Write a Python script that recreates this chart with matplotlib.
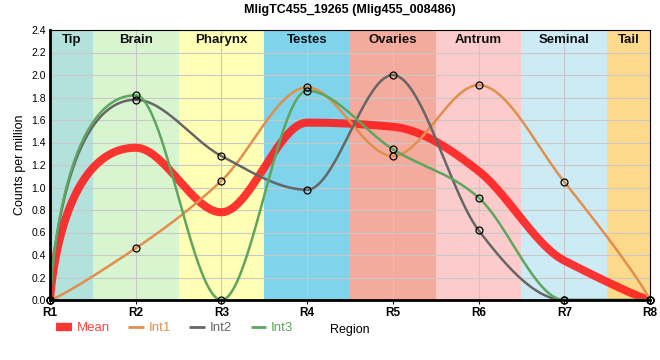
import numpy as np
import matplotlib
matplotlib.use("Agg")
import matplotlib.pyplot as plt
from matplotlib.lines import Line2D

plt.rcParams["font.family"] = ["Liberation Sans", "DejaVu Sans"]

TITLE = "MligTC455_19265 (Mlig455_008486)"
regions = ["R1", "R2", "R3", "R4", "R5", "R6", "R7", "R8"]
band_names = ["Tip", "Brain", "Pharynx", "Testes", "Ovaries", "Antrum", "Seminal", "Tail"]
band_colors = ["#b3e2dd", "#d8f5d0", "#ffffb5", "#7fd3ea", "#f4ab9d", "#fccbcb", "#cdebf5", "#fdd98b"]

int1 = [0.0, 0.46, 1.06, 1.89, 1.28, 1.91, 1.05, 0.0]
int2 = [0.0, 1.78, 1.28, 0.98, 2.00, 0.62, 0.0, 0.0]
int3 = [0.0, 1.82, 0.0, 1.86, 1.34, 0.91, 0.0, 0.0]
mean = list(np.mean([int1, int2, int3], axis=0))

series = [
    ("Int1", int1, "#e08f4c"),
    ("Int2", int2, "#666666"),
    ("Int3", int3, "#5ea55e"),
]
MEAN_COLOR = "#ff1a1a"


def smooth_curve(y, n=80, k=0.9):
    # monotone tangents inside, long handles on the two end segments
    y = np.asarray(y, dtype=float)
    last = len(y) - 1
    s = np.diff(y)
    sign = lambda v: -1.0 if v < 0 else 1.0
    t = np.zeros(len(y))
    for i in range(1, last):
        p = (s[i - 1] + s[i]) / 2
        t[i] = (sign(s[i - 1]) + sign(s[i])) * min(abs(s[i - 1]), abs(s[i]), 0.5 * abs(p))
    # keep the long end handles from overshooting
    t[1] = np.sign(t[1]) * min(abs(t[1]), abs(s[0]) / k)
    t[last - 1] = np.sign(t[last - 1]) * min(abs(t[last - 1]), abs(s[-1]) / k)
    u = np.linspace(0, 1, n)[:, None]
    parts = []
    for i in range(last):
        p0 = np.array([i, y[i]])
        p1 = np.array([i + 1, y[i + 1]])
        h0 = k if i + 1 == last else 1 / 3
        h1 = k if i == 0 else 1 / 3
        c0 = p0 if i == 0 else np.array([i + h0, y[i] + h0 * t[i]])
        c1 = p1 if i + 1 == last else np.array([i + 1 - h1, y[i + 1] - h1 * t[i + 1]])
        b = ((1 - u) ** 3) * p0 + 3 * u * (1 - u) ** 2 * c0 + 3 * u ** 2 * (1 - u) * c1 + u ** 3 * p1
        parts.append(b)
    pts = np.vstack(parts)
    return pts[:, 0], pts[:, 1]


fig = plt.figure(figsize=(6.6, 3.6), dpi=100)
ax = fig.add_axes([50 / 660, 60 / 360, 600 / 660, 270 / 360])

x = np.arange(len(regions))
for i, (name, col) in enumerate(zip(band_names, band_colors)):
    lo = max(i - 0.5, 0)
    hi = min(i + 0.5, len(regions) - 1)
    ax.axvspan(lo, hi, color=col, zorder=0, lw=0)
    ax.text((lo + hi) / 2, 2.31, name, ha="center", va="center",
            fontsize=9.5, fontweight="bold", color="#111111", zorder=3)

ax.set_xlim(0, len(regions) - 1)
ax.set_ylim(0, 2.4)
yt = np.arange(0, 2.41, 0.2)
ax.set_yticks(yt)
ax.set_yticklabels([f"{v:.1f}" for v in yt], fontsize=7.5)
ax.set_xticks(x)
ax.set_xticklabels(regions, fontsize=8.5, fontweight="bold")
ax.grid(True, color="#c8c8c8", lw=0.8, zorder=1)
ax.tick_params(axis="y", length=0, pad=3)
ax.tick_params(axis="x", length=3, width=0.8, pad=2)

mx, my = smooth_curve(mean)
ax.plot(mx, my, color=MEAN_COLOR, alpha=0.88, lw=5.8, zorder=4, solid_capstyle="butt")
for name, vals, col in series:
    cx, cy = smooth_curve(vals)
    ax.plot(cx, cy, color=col, lw=1.8, zorder=5)
    ax.plot(x, vals, "o", ms=5, mfc="none", mec="black", mew=0.9, zorder=6, clip_on=False)

for side in ["top", "right"]:
    ax.spines[side].set_linewidth(0.8)
ax.spines["left"].set_linewidth(2)
ax.spines["bottom"].set_linewidth(2)
for sp in ax.spines.values():
    sp.set_zorder(7)

ax.set_ylabel("Counts per million", fontsize=9)
ax.set_title(TITLE, fontsize=9, fontweight="bold", pad=12)
ax.set_xlabel("Region", fontsize=9, labelpad=4)

handles = [Line2D([], [], color=MEAN_COLOR, alpha=0.88, lw=6, solid_capstyle="butt")]
labels = ["Mean"]
colors = ["#ff4444"]
for name, vals, col in series:
    handles.append(Line2D([], [], color=col, lw=2, solid_capstyle="butt"))
    labels.append(name)
    colors.append(col)
leg = fig.legend(handles, labels, loc="center left", bbox_to_anchor=(56 / 660, 1 - 328 / 360),
                 ncol=4, frameon=False, fontsize=9.5, handlelength=1.2, handletextpad=0.35,
                 columnspacing=1.4, borderaxespad=0, borderpad=0)
for txt, c in zip(leg.get_texts(), colors):
    txt.set_color(c)

fig.savefig("out.png", dpi=100)
